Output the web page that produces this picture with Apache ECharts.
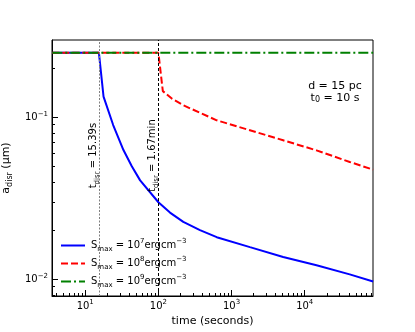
<!DOCTYPE html>
<html>
<head>
<meta charset="utf-8">
<script src="https://cdn.jsdelivr.net/npm/echarts@6/dist/echarts.min.js"></script>
<style>
  html, body { margin: 0; padding: 0; background: #fff; }
  #chart { width: 415px; height: 332px; }
</style>
</head>
<body>
<div id="chart"></div>
<script>
  // data (time in s, a_disr in micron)
  var tBlue = [3.55, 15.39, 17.8, 24.1, 33.3, 43.3, 56.3, 100, 144, 219, 370, 627, 1782, 5070, 14490, 41200, 86000]
  var aBlue = [0.25, 0.25, 0.134, 0.0896, 0.0628, 0.0499, 0.0408, 0.0299, 0.0258, 0.0226, 0.0201, 0.0182, 0.0158, 0.01373, 0.0122, 0.01073, 0.0097]
  var tRed = [3.55, 100, 115, 154, 219, 627, 1782, 5070, 14490, 41200, 86000]
  var aRed = [0.25, 0.25, 0.145, 0.130, 0.1186, 0.0958, 0.0832, 0.0721, 0.0625, 0.0530, 0.0475]
  var tGreen = [3.55, 86000]
  var aGreen = [0.25, 0.25]
  var seriesNames = ['S7', 'S8', 'S9']
  var legendExp = ['7', '8', '9']
  var tDisr = [15.39, 100]
  var tDisrText = ['15.39s', '1.67min']
  var labelA = 0.058
  var xMajor = [1, 2, 3, 4]
  var yMajor = [-2, -1]

  var XMIN = 0.546, XMAX = 4.933
  var YMIN = -2.103, YMAX = -0.523
  var FONT = 'DejaVu Sans'

  function minors(lo, hi, nFrom, nTo) {
    var out = []
    for (var n = nFrom; n <= nTo; n++) {
      for (var k = 2; k <= 9; k++) {
        var v = Math.log10(k) + n
        if (v > lo + 1e-6 && v < hi - 1e-6) out.push(v)
      }
    }
    return out
  }
  function pairs(t, a) {
    return t.map(function(v, i) { return [Math.log10(v), Math.log10(a[i])] })
  }
  function expText(v) {
    var n = Math.round(v)
    return '{b|10}{s|' + (n < 0 ? '\u2212' + (-n) : n) + '}'
  }
  function richSet(size, small) {
    return {
      n: { fontSize: size, fontFamily: FONT, color: '#000', lineHeight: size + 5 },
      sub: { fontSize: small, fontFamily: FONT, color: '#000', lineHeight: small, verticalAlign: 'bottom' },
      sup: { fontSize: small, fontFamily: FONT, color: '#000', lineHeight: small, verticalAlign: 'top' }
    }
  }

  var tickRich = {
    b: { fontSize: 10, fontFamily: FONT, color: '#000', lineHeight: 14 },
    s: { fontSize: 7, fontFamily: FONT, color: '#000', lineHeight: 7, verticalAlign: 'top' }
  }
  var textRich = richSet(11, 8)
  var smallRich = richSet(10, 7)
  var axisLineStyle = { color: '#000', width: 1 }

  var chart = echarts.init(document.getElementById('chart'), null, { renderer: 'canvas' })
  chart.setOption({
    animation: false,
    backgroundColor: '#fff',
    grid: {
      left: 52, right: 42, top: 40, bottom: 36, outerBoundsMode: 'none',
      show: true, borderColor: '#000', borderWidth: 1
    },
    legend: {
      orient: 'vertical',
      left: 55,
      top: 233,
      itemWidth: 24,
      itemHeight: 10,
      itemGap: 3,
      data: seriesNames,
      itemStyle: { opacity: 0 },
      formatter: function(name) {
        var e = legendExp[seriesNames.indexOf(name)]
        return '{n|S}{sub|max}{n| = 10}{sup|' + e + '}{n|ergcm}{sup|\u22123}'
      },
      textStyle: { rich: smallRich, padding: [0, 0, 0, 1] }
    },
    xAxis: [{
      type: 'value', min: XMIN, max: XMAX,
      name: 'time (seconds)', nameLocation: 'middle', nameGap: 13,
      nameTextStyle: { fontSize: 11, fontFamily: FONT, color: '#000' },
      axisLine: { show: true, lineStyle: axisLineStyle },
      axisTick: { show: true, inside: true, length: 6, customValues: xMajor, lineStyle: axisLineStyle },
      axisLabel: { customValues: xMajor, margin: 3, formatter: expText, rich: tickRich },
      splitLine: { show: false }
    }, {
      type: 'value', min: XMIN, max: XMAX, position: 'bottom',
      axisLine: { show: false },
      axisTick: { show: true, inside: true, length: 3, customValues: minors(XMIN, XMAX, 0, 4), lineStyle: axisLineStyle },
      axisLabel: { show: false },
      splitLine: { show: false }
    }],
    yAxis: [{
      type: 'value', min: YMIN, max: YMAX,
      name: '{n|a}{sub|disr}{n| (\u03bcm)}', nameLocation: 'middle', nameGap: 31,
      nameTextStyle: { rich: textRich },
      axisLine: { show: true, lineStyle: axisLineStyle },
      axisTick: { show: true, inside: true, length: 6, customValues: yMajor, lineStyle: axisLineStyle },
      axisLabel: { customValues: yMajor, margin: 4, formatter: expText, rich: tickRich },
      splitLine: { show: false }
    }, {
      type: 'value', min: YMIN, max: YMAX, position: 'left',
      axisLine: { show: false },
      axisTick: { show: true, inside: true, length: 3, customValues: minors(YMIN, YMAX, -3, -1), lineStyle: axisLineStyle },
      axisLabel: { show: false },
      splitLine: { show: false }
    }],
    series: [{
      name: seriesNames[0], type: 'line', symbol: 'none', z: 2,
      data: pairs(tBlue, aBlue),
      lineStyle: { color: '#0000ff', width: 2 },
      itemStyle: { color: '#0000ff' },
      markLine: {
        silent: true, symbol: 'none', label: { show: false },
        data: [
          { xAxis: Math.log10(tDisr[0]), lineStyle: { color: '#808080', type: [2, 1.5], width: 1 } },
          { xAxis: Math.log10(tDisr[1]), lineStyle: { color: '#000', type: [3, 2], width: 1 } }
        ]
      }
    }, {
      name: seriesNames[1], type: 'line', symbol: 'none', z: 3,
      data: pairs(tRed, aRed),
      lineStyle: { color: '#ff0000', width: 2, type: [7, 3] },
      itemStyle: { color: '#ff0000' }
    }, {
      name: seriesNames[2], type: 'line', symbol: 'none', z: 4,
      data: pairs(tGreen, aGreen),
      lineStyle: { color: '#008000', width: 2, type: [10, 3, 2, 3] },
      itemStyle: { color: '#008000' }
    }]
  })

  // rotated labels next to the disruption-time lines
  var graphics = tDisr.map(function(t, i) {
    var p = chart.convertToPixel({ xAxisIndex: 0, yAxisIndex: 0 }, [Math.log10(t), Math.log10(labelA)])
    return {
      type: 'text', x: p[0] - 6, y: p[1], rotation: Math.PI / 2, z: 10,
      style: { text: '{n|t}{sub|disr}{n| = ' + tDisrText[i] + '}', rich: smallRich, align: 'center', verticalAlign: 'middle' }
    }
  })
  graphics.push({
    type: 'text', x: 335, y: 92, z: 10,
    style: { text: '{n|d = 15 pc}\n{n|t}{sub|0}{n| = 10 s}', rich: {
      n: { fontSize: 11, fontFamily: FONT, color: '#000', lineHeight: 12, align: 'center' },
      sub: { fontSize: 8, fontFamily: FONT, color: '#000', lineHeight: 6, verticalAlign: 'bottom' }
    }, align: 'center', verticalAlign: 'middle' }
  })
  chart.setOption({ graphic: graphics })
</script>
</body>
</html>
